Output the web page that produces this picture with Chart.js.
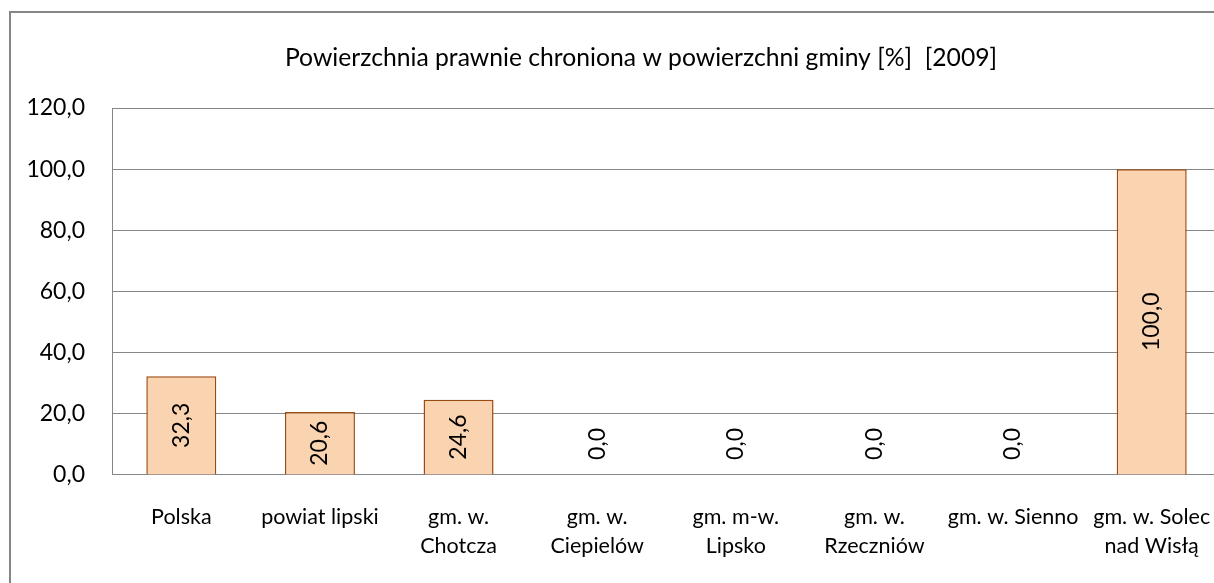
<!DOCTYPE html>
<html>
<head>
<meta charset="utf-8">
<script src="https://cdn.jsdelivr.net/npm/chart.js@4/dist/chart.umd.min.js"></script>
<style>
  html, body { margin: 0; background: #fff; overflow: hidden; }
</style>
</head>
<body>
<canvas id="chart" width="1221" height="583"></canvas>
<script>
const categories = [
  "Polska",
  "powiat lipski",
  ["gm. w.", "Chotcza"],
  ["gm. w.", "Ciepielów"],
  ["gm. m-w.", "Lipsko"],
  ["gm. w.", "Rzeczniów"],
  "gm. w. Sienno",
  ["gm. w. Solec", "nad Wisłą"]
];
const values = [32.3, 20.6, 24.6, 0.0, 0.0, 0.0, 0.0, 100.0];
const yTicks = [0, 20, 40, 60, 80, 100, 120];
const chartTitle = "Powierzchnia prawnie chroniona w powierzchni gminy [%]  [2009]";

function fmt(v) {
  return v.toFixed(1).replace(".", ",");
}

// outer frame + title (title is centred on the frame, not the canvas)
const framePlugin = {
  id: "frame",
  beforeDraw(chart) {
    const ctx = chart.ctx;
    ctx.save();
    ctx.strokeStyle = "#868686";
    ctx.lineWidth = 2;
    ctx.strokeRect(10, 12, 1400, 800);
    ctx.font = "24.7px Lato";
    ctx.fillStyle = "#000";
    ctx.textAlign = "center";
    ctx.textBaseline = "middle";
    ctx.fillText(chartTitle, 641, 58);
    ctx.restore();
  }
};

// rotated value labels inside the bars
const valueLabels = {
  id: "valueLabels",
  afterDatasetsDraw(chart) {
    const ctx = chart.ctx;
    const meta = chart.getDatasetMeta(0);
    ctx.save();
    ctx.font = "23px Lato";
    ctx.fillStyle = "#000";
    ctx.textAlign = "center";
    ctx.textBaseline = "middle";
    meta.data.forEach((bar, i) => {
      const cy = Math.min((bar.y + bar.base) / 2, bar.base - 31);
      ctx.save();
      ctx.translate(bar.x, cy);
      ctx.rotate(-Math.PI / 2);
      ctx.fillText(fmt(values[i]), 0, 0);
      ctx.restore();
    });
    ctx.restore();
  }
};

const ctx = document.getElementById("chart").getContext("2d");
new Chart(ctx, {
  type: "bar",
  data: {
    labels: categories,
    datasets: [{
      data: values,
      backgroundColor: "#FAD3B1",
      borderColor: "#9C4A0E",
      borderWidth: 1.5,
      barPercentage: 0.505,
      categoryPercentage: 1
    }]
  },
  options: {
    responsive: false,
    animation: false,
    layout: { padding: { left: 0, right: 0, top: 108, bottom: 22 } },
    plugins: {
      legend: { display: false },
      tooltip: { enabled: false },
      title: { display: false }
    },
    scales: {
      x: {
        grid: { display: false, drawTicks: true, tickLength: 28 },
        border: { display: true, color: "#868686", width: 1 },
        ticks: {
          color: "#000",
          font: { family: "Lato", size: 21.5, lineHeight: 1.35 },
          maxRotation: 0,
          autoSkip: false,
          padding: 0
        }
      },
      y: {
        min: 0,
        max: 120,
        afterBuildTicks(scale) {
          scale.ticks = yTicks.map(v => ({ value: v }));
        },
        afterFit(scale) {
          scale.width = 112;
        },
        grid: { color: "#868686", drawTicks: false },
        border: { display: true, color: "#868686", width: 1 },
        ticks: {
          color: "#000",
          font: { family: "Lato", size: 23 },
          padding: 27,
          callback: v => fmt(v)
        }
      }
    }
  },
  plugins: [framePlugin, valueLabels]
});
</script>
</body>
</html>
